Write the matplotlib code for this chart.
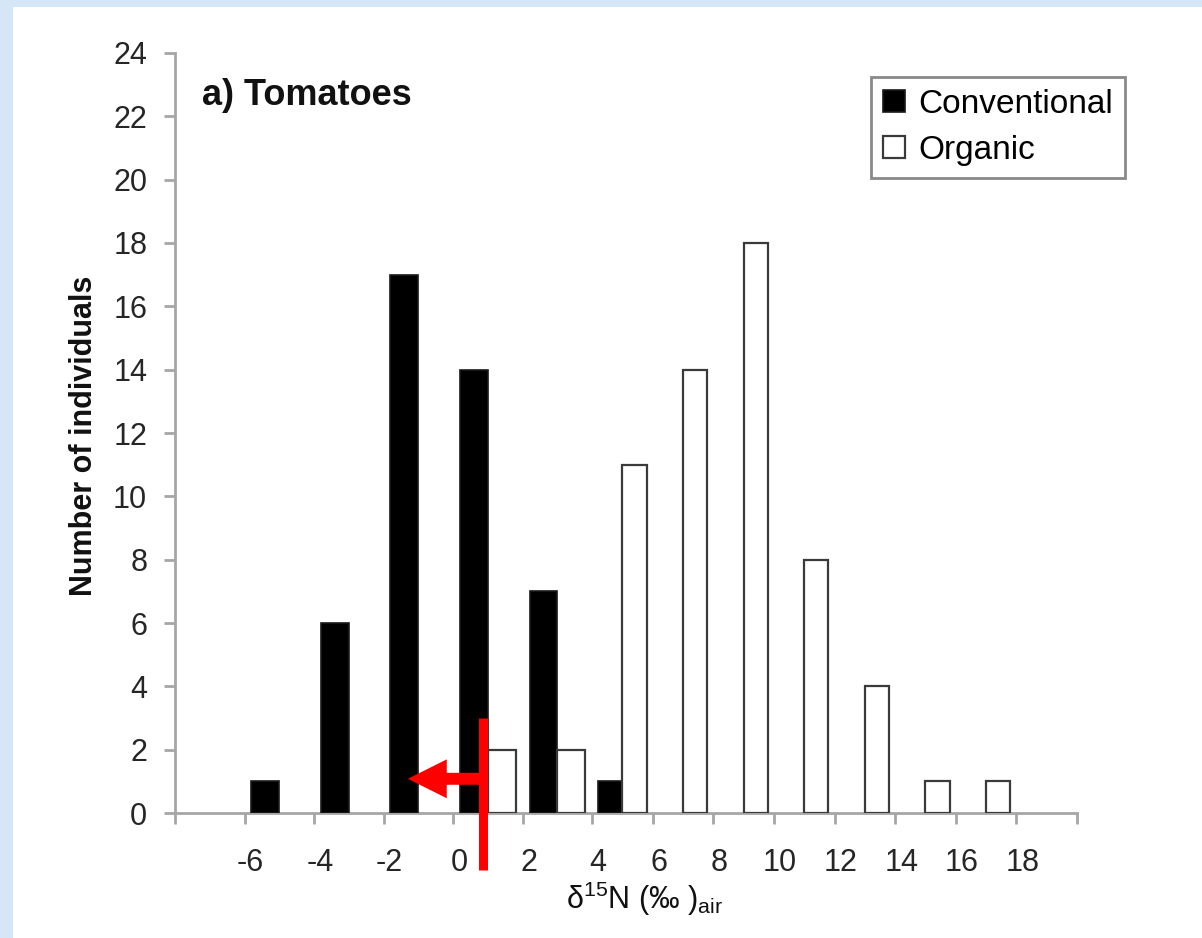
import numpy as np
import matplotlib
matplotlib.use("Agg")
import matplotlib.pyplot as plt
from matplotlib.patches import Rectangle
from matplotlib.transforms import ScaledTranslation

plt.rcParams['font.family'] = ['Liberation Sans', 'DejaVu Sans']
plt.rcParams['mathtext.fontset'] = 'custom'
plt.rcParams['mathtext.rm'] = 'Liberation Sans'
plt.rcParams['mathtext.it'] = 'Liberation Sans:italic'
plt.rcParams['mathtext.bf'] = 'Liberation Sans:bold'

# ---- data ----
bin_index = np.arange(14)
conventional = np.array([0, 1, 6, 17, 14, 7, 1, 0, 0, 0, 0, 0, 0, 0])
organic = np.array([0, 0, 0, 0, 2, 2, 11, 14, 18, 8, 4, 1, 1, 0])
tick_positions = list(range(1, 14))
tick_labels = ['-6', '-4', '-2', '0', '2', '4', '6', '8', '10', '12', '14', '16', '18']
y_ticks = list(range(0, 25, 2))
series_names = ['Conventional', 'Organic']

# red annotation (cut-off marker and arrow)
marker_x = 4.43
marker_y = (3.0, -1.8)
arrow_y = 1.08
arrow_tip_x = 3.35

W, H, DPI = 1202, 938, 100
fig = plt.figure(figsize=(W / DPI, H / DPI), dpi=DPI)
fig.patch.set_facecolor('#d5e7f7')
fig.patches.append(Rectangle((13 / W, 0), 1 - 13 / W, 1 - 7 / H,
                             transform=fig.transFigure, facecolor='white',
                             edgecolor='none', zorder=-10))

ax = fig.add_axes([175 / W, 1 - 813 / H, (1077 - 175) / W, (813 - 53) / H])
ax.set_facecolor('none')

# uneven horizontal spacing as in the reference image
a_w, b_w = 69.5, 60.6
def fwd(x):
    x = np.asarray(x, dtype=float)
    return np.where(x < 6, x * a_w, 6 * a_w + (x - 6) * b_w)
def inv(y):
    y = np.asarray(y, dtype=float)
    return np.where(y < 6 * a_w, y / a_w, 6 + (y - 6 * a_w) / b_w)
ax.set_xscale('function', functions=(fwd, inv))

cm = conventional > 0
om = organic > 0
ax.bar(bin_index[cm] + 0.3, conventional[cm], width=0.4, color='black',
       edgecolor='#1a1a1a', linewidth=1.2, label=series_names[0], zorder=3)
ax.bar(bin_index[om] + 0.7, organic[om], width=0.4, color='white',
       edgecolor='#3a3a3a', linewidth=1.6, label=series_names[1], zorder=3)

ax.set_xlim(0, 14)
ax.set_ylim(0, 24)

for s in ['top', 'right']:
    ax.spines[s].set_visible(False)
for s in ['left', 'bottom']:
    ax.spines[s].set_color('#a6a6a6')
    ax.spines[s].set_linewidth(2)

ax.set_xticks(list(range(0, 15)))
ax.set_xticklabels([''] + tick_labels + [''])
ax.set_yticks(y_ticks)
ax.set_yticklabels([str(v) for v in y_ticks])
ax.tick_params(axis='both', direction='out', length=8, width=2, color='#a6a6a6',
               labelsize=22, labelcolor='#262626')
ax.tick_params(axis='x', pad=17)
ax.tick_params(axis='y', pad=12)
ax.xaxis.set_minor_locator(matplotlib.ticker.NullLocator())
for lab in ax.get_xticklabels():
    lab.set_transform(lab.get_transform() + ScaledTranslation(6 / DPI, 0, fig.dpi_scale_trans))

ax.set_ylabel('Number of individuals', fontsize=22, fontweight='bold', color='#111111')
ax.yaxis.set_label_coords((84 - 175) / 902, (813 - 436) / 760)
ax.yaxis.label.set_va('center')

ax.set_xlabel('δ$^{15}$N (‰ )$_{\\mathrm{air}}$', fontsize=22, color='#111111')
ax.xaxis.set_label_coords((645 - 175) / 902, (813 - 899) / 760)
ax.xaxis.label.set_va('center')

ax.text((202 - 175) / 902, (813 - 105) / 760, 'a) Tomatoes', transform=ax.transAxes,
        fontsize=26, fontweight='bold', ha='left', va='baseline', color='#111111')

leg = ax.legend(loc='upper left', bbox_to_anchor=(871 / W, 1 - 77 / H),
                bbox_transform=fig.transFigure, borderaxespad=0, fontsize=24,
                frameon=True, fancybox=False, framealpha=1, edgecolor='#8a8a8a',
                handlelength=0.65, handleheight=0.65, handletextpad=0.4,
                labelspacing=0.45, borderpad=0.36)
leg.get_frame().set_linewidth(2)

# red annotation
ax.plot([marker_x, marker_x], list(marker_y), color='red', lw=6.5,
        solid_capstyle='butt', clip_on=False, zorder=6)
ax.annotate('', xy=(arrow_tip_x, arrow_y), xytext=(marker_x, arrow_y),
            arrowprops=dict(arrowstyle='simple,head_length=2.8,head_width=2.8,tail_width=0.86',
                            mutation_scale=10, color='red', shrinkA=0, shrinkB=0, lw=0),
            zorder=6, annotation_clip=False)

fig.savefig('out.png', dpi=DPI)
